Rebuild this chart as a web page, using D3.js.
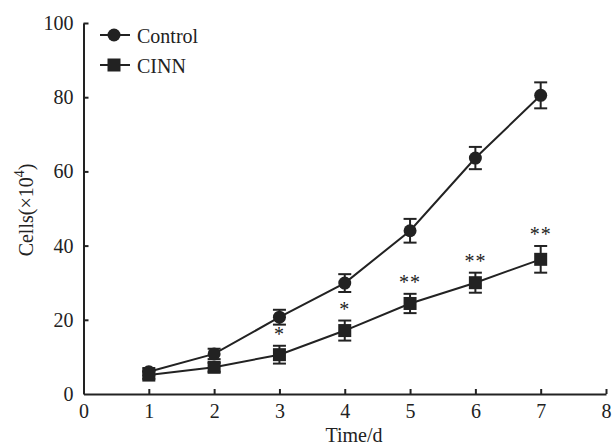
<!doctype html>
<html>
<head>
<script src="https://d3js.org/d3.v7.min.js"></script>
<style>
  body { margin: 0; background: #fff; }
  svg text { font-family: "Liberation Serif", Tinos, "Times New Roman", Times, serif !important; fill: #222; }
</style>
</head>
<body>
<script>
var days = [1, 2, 3, 4, 5, 6, 7];
var control = [6.0, 10.8, 20.7, 29.9, 44.0, 63.6, 80.5];
var controlErr = [1.0, 1.4, 2.0, 2.4, 3.2, 3.0, 3.5];
var cinn = [5.1, 7.2, 10.6, 17.1, 24.4, 30.0, 36.3];
var cinnErr = [1.0, 1.2, 2.4, 2.7, 2.6, 2.7, 3.6];
var stars = ["", "", "*", "*", "**", "**", "**"];
var xTicks = [0, 1, 2, 3, 4, 5, 6, 7, 8];
var yTicks = [0, 20, 40, 60, 80, 100];

var width = 612, height = 445;
var svg = d3.select("body").append("svg")
    .attr("width", width)
    .attr("height", height);

var x = d3.scaleLinear().domain([0, 8]).range([83.5, 606]);
var y = d3.scaleLinear().domain([0, 100]).range([394, 23]);

// axes, ticks pointing inward
var xAxis = svg.append("g")
    .attr("transform", "translate(0," + y(0) + ")")
    .call(d3.axisBottom(x).tickValues(xTicks).tickSizeInner(-5).tickSizeOuter(0).tickPadding(10));
var yAxis = svg.append("g")
    .attr("transform", "translate(" + x(0) + ",0)")
    .call(d3.axisLeft(y).tickValues(yTicks).tickSizeInner(-5).tickSizeOuter(0).tickPadding(10));

[xAxis, yAxis].forEach(function(a) {
    a.attr("font-family", null);
    a.select(".domain").attr("stroke", "#222").attr("stroke-width", 2);
    a.selectAll(".tick line").attr("stroke", "#222").attr("stroke-width", 2);
    a.selectAll(".tick text").attr("font-size", 20).attr("fill", "#222");
});
xAxis.selectAll(".tick").filter(function(d) { return d === 0; }).select("line").remove();
yAxis.selectAll(".tick").filter(function(d) { return d === 0; }).select("line").remove();

svg.append("text")
    .attr("x", 354)
    .attr("y", 442)
    .attr("text-anchor", "middle")
    .attr("font-size", 20)
    .text("Time/d");

var yl = svg.append("text")
    .attr("transform", "translate(33,210) rotate(-90)")
    .attr("text-anchor", "middle")
    .attr("font-size", 20);
yl.append("tspan").text("Cells(\u00d710");
yl.append("tspan").attr("dy", -9).attr("font-size", 14).text("4");
yl.append("tspan").attr("dy", 9).text(")");

var line = d3.line()
    .x(function(d, i) { return x(days[i]); })
    .y(function(d) { return y(d); });

function drawSeries(vals, errs, shape) {
    var g = svg.append("g");
    g.append("path")
        .datum(vals)
        .attr("d", line)
        .attr("fill", "none")
        .attr("stroke", "#222")
        .attr("stroke-width", 2);

    var eb = g.selectAll(".eb").data(vals).enter().append("g");
    eb.append("line")
        .attr("x1", function(d, i) { return x(days[i]); })
        .attr("x2", function(d, i) { return x(days[i]); })
        .attr("y1", function(d, i) { return y(d + errs[i]); })
        .attr("y2", function(d, i) { return y(d - errs[i]); })
        .attr("stroke", "#222").attr("stroke-width", 2);
    [1, -1].forEach(function(s) {
        eb.append("line")
            .attr("x1", function(d, i) { return x(days[i]) - 6.5; })
            .attr("x2", function(d, i) { return x(days[i]) + 6.5; })
            .attr("y1", function(d, i) { return y(d + s * errs[i]); })
            .attr("y2", function(d, i) { return y(d + s * errs[i]); })
            .attr("stroke", "#222").attr("stroke-width", 2);
    });

    if (shape === "circle") {
        g.selectAll("circle").data(vals).enter().append("circle")
            .attr("cx", function(d, i) { return x(days[i]); })
            .attr("cy", function(d) { return y(d); })
            .attr("r", 6.5)
            .attr("fill", "#222");
    } else {
        g.selectAll("rect").data(vals).enter().append("rect")
            .attr("x", function(d, i) { return x(days[i]) - 6.5; })
            .attr("y", function(d) { return y(d) - 6.5; })
            .attr("width", 13)
            .attr("height", 13)
            .attr("fill", "#222");
    }
}

drawSeries(control, controlErr, "circle");
drawSeries(cinn, cinnErr, "square");

svg.selectAll(".star").data(stars).enter().append("text")
    .attr("x", function(d, i) { return x(days[i]); })
    .attr("y", function(d, i) { return y(cinn[i] + cinnErr[i]) - 5; })
    .attr("text-anchor", "middle")
    .attr("font-size", 20)
    .attr("letter-spacing", 1)
    .text(function(d) { return d; });

// legend
var legend = [{name: "Control", shape: "circle"}, {name: "CINN", shape: "square"}];
var lg = svg.selectAll(".lg").data(legend).enter().append("g")
    .attr("transform", function(d, i) { return "translate(100," + (35 + i * 30) + ")"; });
lg.append("line").attr("x1", 0).attr("x2", 30).attr("stroke", "#222").attr("stroke-width", 2);
lg.filter(function(d) { return d.shape === "circle"; }).append("circle")
    .attr("cx", 14).attr("r", 6.5).attr("fill", "#222");
lg.filter(function(d) { return d.shape === "square"; }).append("rect")
    .attr("x", 7.5).attr("y", -6.5).attr("width", 13).attr("height", 13).attr("fill", "#222");
lg.append("text").attr("x", 37).attr("y", 8).attr("font-size", 20)
    .text(function(d) { return d.name; });
</script>
</body>
</html>
